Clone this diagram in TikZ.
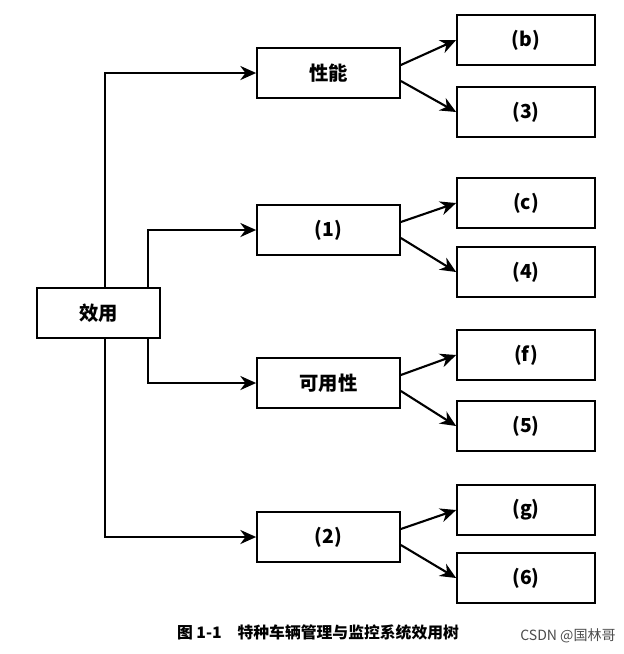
\documentclass[tikz,border=0pt]{standalone}
\usepackage{fontspec}
\setmainfont{Noto Sans CJK SC}
\usetikzlibrary{arrows.meta}
\tikzset{
  box/.style={draw, line width=1pt, minimum height=1cm, inner sep=0pt, font=\fontsize{11}{13}\selectfont\bfseries},
  midbox/.style={box, minimum width=2.86cm},
  leafbox/.style={box, minimum width=2.76cm},
  arr/.style={line width=1.2pt, -{Stealth[length=9pt,width=8pt]}}
}
\begin{document}
\begin{tikzpicture}[x=0.02cm, y=-0.02cm]
    \useasboundingbox (0, 0) rectangle (624, 654);

    \node [box, minimum width=2.46cm] (u) at (98.5, 313) {效用};
    \node [midbox] (p) at (328.5, 73) {性能};
    \node [midbox] (m1) at (328.5, 230) {(1)};
    \node [midbox] (a) at (328.5, 383) {可用性};
    \node [midbox] (m2) at (328.5, 537) {(2)};
    \node [leafbox] (b) at (526, 40) {(b)};
    \node [leafbox] (n3) at (526, 112) {(3)};
    \node [leafbox] (c) at (526, 203) {(c)};
    \node [leafbox] (n4) at (526, 272) {(4)};
    \node [leafbox] (f) at (526, 355) {(f)};
    \node [leafbox] (n5) at (526, 426) {(5)};
    \node [leafbox] (g) at (526, 510) {(g)};
    \node [leafbox] (n6) at (526, 578) {(6)};
    \node [font=\fontsize{9}{11}\selectfont\bfseries] (cap) at (318, 632) {图 1-1\quad 特种车辆管理与监控系统效用树};
    \node [font=\fontsize{8}{10}\selectfont, text=gray!60!black] (src) at (568, 636) {CSDN @国林哥};

    \draw [arr] (u.north -| 105, 0) |- (p);
    \draw [arr] (u.north -| 148, 0) |- (m1);
    \draw [arr] (u.south -| 148, 0) |- (a);
    \draw [arr] (u.south -| 105, 0) |- (m2);

    \draw [arr] ([yshift=0.16cm]p.east) to (b.west);
    \draw [arr] ([yshift=-0.16cm]p.east) to (n3.west);
    \draw [arr] ([yshift=0.16cm]m1.east) to (c.west);
    \draw [arr] ([yshift=-0.16cm]m1.east) to (n4.west);
    \draw [arr] ([yshift=0.16cm]a.east) to (f.west);
    \draw [arr] ([yshift=-0.16cm]a.east) to (n5.west);
    \draw [arr] ([yshift=0.16cm]m2.east) to (g.west);
    \draw [arr] ([yshift=-0.16cm]m2.east) to (n6.west);

\end{tikzpicture}
\end{document}
